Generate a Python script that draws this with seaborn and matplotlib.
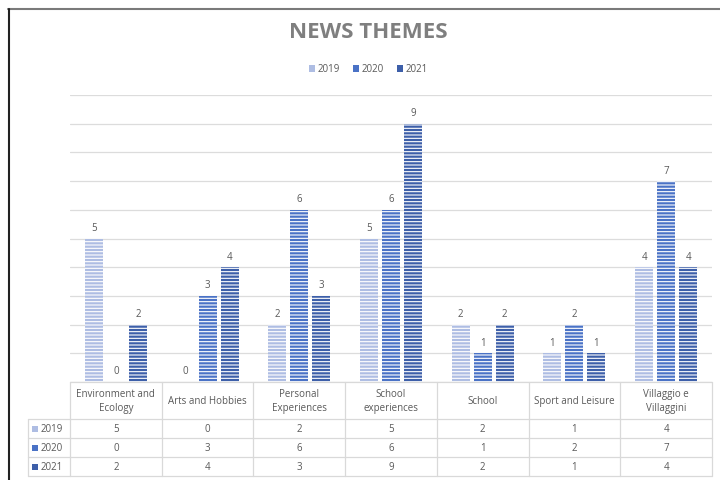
import matplotlib
matplotlib.use("Agg")
import matplotlib.pyplot as plt
import matplotlib.transforms as mtrans
from matplotlib.lines import Line2D
from matplotlib.patches import Rectangle
import seaborn as sns
import pandas as pd

categories = ["Environment and\nEcology", "Arts and Hobbies", "Personal\nExperiences",
              "School\nexperiences", "School", "Sport and Leisure", "Villaggio e\nVillaggini"]
years = ["2019", "2020", "2021"]
v2019 = [5, 0, 2, 5, 2, 1, 4]
v2020 = [0, 3, 6, 6, 1, 2, 7]
v2021 = [2, 4, 3, 9, 2, 1, 4]
colors = ["#aebde3", "#4a72c6", "#3d5fa9"]

rows = []
for yr, vals in zip(years, [v2019, v2020, v2021]):
    for c, v in zip(categories, vals):
        rows.append({"cat": c, "year": yr, "value": v})
df = pd.DataFrame(rows)

sns.set_theme(style="white")
plt.rcParams['font.family'] = ['Open Sans', 'DejaVu Sans']
plt.rcParams['hatch.linewidth'] = 0.8

W, H = 720, 481
fig = plt.figure(figsize=(7.2, 4.81), dpi=100)
ax = fig.add_axes([70 / W, 1 - 383 / H, (712 - 70) / W, (383 - 96) / H])

sns.barplot(data=df, x="cat", y="value", hue="year", order=categories, hue_order=years,
            palette=colors, saturation=1, width=0.72, gap=0.18, ax=ax, legend=False)

for cont in ax.containers:
    for p in cont:
        p.set_hatch("-----")
        p.set_edgecolor("white")
        p.set_linewidth(0)
    ax.bar_label(cont, padding=4, fontsize=7, color="#595959")

ax.set_ylim(0, 10)
ax.set_xlim(-0.5, 6.5)
ax.set_yticks(range(0, 11))
ax.grid(axis="y", color="#dcdcdc", linewidth=0.9)
ax.set_axisbelow(True)
ax.set_xticks([])
ax.set_yticklabels([])
ax.tick_params(left=False)
ax.set_xlabel("")
ax.set_ylabel("")
for s in ax.spines.values():
    s.set_visible(False)

# pixel transform (top-left origin)
pix = mtrans.Affine2D().scale(1 / W, -1 / H).translate(0, 1) + fig.transFigure

# screenshot border
fig.add_artist(Line2D([8, 720], [10, 10], transform=pix, color="#7a7a7a", lw=1.5))
fig.add_artist(Line2D([9, 9], [10, 481], transform=pix, color="#222222", lw=1.5))

# title
fig.text(368 / W, 1 - 33 / H, "NEWS THEMES", ha="center", va="center",
         fontsize=16, fontweight="bold", color="#7f7f7f")

# legend
leg_x = [309, 353, 397]
for x, yr, col in zip(leg_x, years, colors):
    fig.add_artist(Rectangle((x, 66), 6, 7, transform=pix, facecolor=col,
                             edgecolor="none"))
    fig.text((x + 9) / W, 1 - 70 / H, yr, ha="left", va="center", fontsize=7,
             color="#595959")

# data table
gc = "#d9d9d9"
xs = [70 + (712 - 70) / 7 * k for k in range(8)]
row_y = [383, 420, 439, 458, 477]
for x in xs:
    fig.add_artist(Line2D([x, x], [383, 477], transform=pix, color=gc, lw=0.9))
fig.add_artist(Line2D([28, 28], [420, 477], transform=pix, color=gc, lw=0.9))
fig.add_artist(Line2D([70, 712], [383, 383], transform=pix, color=gc, lw=0.9))
for y in row_y[1:]:
    fig.add_artist(Line2D([28, 712], [y, y], transform=pix, color=gc, lw=0.9))

tc = "#595959"
for k, c in enumerate(categories):
    cx = (xs[k] + xs[k + 1]) / 2
    fig.text(cx / W, 1 - 401.5 / H, c, ha="center", va="center", fontsize=7,
             color=tc, linespacing=1.3)
for r, (yr, vals, col) in enumerate(zip(years, [v2019, v2020, v2021], colors)):
    cy = (row_y[r + 1] + row_y[r + 2]) / 2
    fig.add_artist(Rectangle((32, cy - 3), 6, 6, transform=pix, facecolor=col,
                             edgecolor="none"))
    fig.text(41 / W, 1 - cy / H, yr, ha="left", va="center", fontsize=7, color=tc)
    for k, v in enumerate(vals):
        cx = (xs[k] + xs[k + 1]) / 2
        fig.text(cx / W, 1 - cy / H, str(v), ha="center", va="center", fontsize=7,
                 color=tc)

fig.savefig("out.png", dpi=100)
